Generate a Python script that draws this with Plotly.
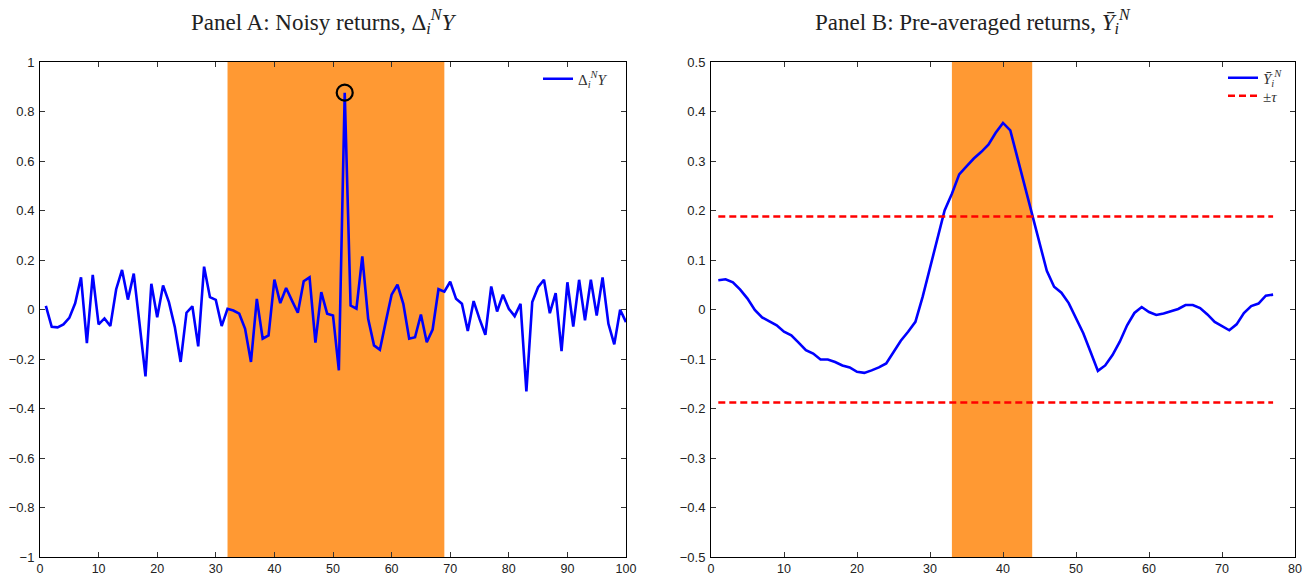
import plotly.graph_objects as go

# ---------------- data ----------------
x_a = list(range(1, 101))
noisy_returns = [
    0.015, -0.07, -0.072, -0.06, -0.034, 0.025, 0.13, -0.136, 0.14, -0.06,
    -0.036, -0.067, 0.082, 0.16, 0.04, 0.145, -0.06, -0.27, 0.104, -0.031,
    0.097, 0.03, -0.07, -0.212, -0.013, 0.013, -0.149, 0.173, 0.05, 0.039,
    -0.067, 0.003, -0.004, -0.017, -0.078, -0.212, 0.043, -0.118, -0.105, 0.121,
    0.026, 0.087, 0.036, -0.013, 0.114, 0.13, -0.134, 0.07, -0.017, -0.024,
    -0.246, 0.876, 0.016, 0.003, 0.215, -0.038, -0.145, -0.163, -0.05, 0.06,
    0.1, 0.023, -0.118, -0.112, -0.02, -0.132, -0.081, 0.082, 0.072, 0.112,
    0.043, 0.023, -0.087, 0.034, -0.038, -0.102, 0.093, -0.008, 0.06, 0.003,
    -0.027, 0.023, -0.331, 0.03, 0.09, 0.12, -0.015, 0.066, -0.168, 0.11,
    -0.069, 0.12, -0.044, 0.12, -0.024, 0.13, -0.058, -0.141, -0.001, -0.051,
]
jump_x = [52]
jump_y = [0.876]
band_a = [32, 69]

x_b = list(range(1, 78))
preavg_returns = [
    0.059, 0.061, 0.055, 0.04, 0.022, -0.001, -0.016, -0.024, -0.032, -0.045,
    -0.052, -0.067, -0.082, -0.089, -0.101, -0.101, -0.106, -0.113, -0.117, -0.126,
    -0.128, -0.123, -0.117, -0.109, -0.086, -0.063, -0.045, -0.025, 0.026, 0.086,
    0.14, 0.2, 0.234, 0.273, 0.289, 0.305, 0.318, 0.333, 0.357, 0.377,
    0.362, 0.305, 0.248, 0.188, 0.133, 0.078, 0.046, 0.034, 0.013, -0.018,
    -0.048, -0.086, -0.124, -0.113, -0.092, -0.065, -0.032, -0.007, 0.005, -0.005,
    -0.011, -0.008, -0.003, 0.001, 0.009, 0.009, 0.003, -0.01, -0.025, -0.034,
    -0.042, -0.03, -0.007, 0.007, 0.012, 0.028, 0.03,
]
tau = 0.188
tau_x = [1, 77]
band_b = [33, 44]

title_a = "Panel A: Noisy returns, Δ<sub><i>i</i></sub><sup><i>N</i></sup><i>Y</i>"
title_b = "Panel B: Pre-averaged returns, <i>Ȳ</i><sub><i>i</i></sub><sup><i>N</i></sup>"
leg_a = "Δ<sub><i>i</i></sub><sup><i>N</i></sup><i>Y</i>"
leg_b1 = "<i>Ȳ</i><sub><i>i</i></sub><sup><i>N</i></sup>"
leg_b2 = "±<i>τ</i>"

# ---------------- styles ----------------
BLUE = "#0000FF"
RED = "#FF0000"
ORANGE = "#FF9933"
SERIF = "Liberation Serif, Times New Roman, serif"
SANS = "Liberation Sans, Arial, Helvetica, sans-serif"

W, H = 1308, 575
ML, MR, MT, MB = 40, 13, 62, 18
PW = W - ML - MR
PH = H - MT - MB
A_R = 626
B_L = 711


def px_x(p):
    return (p - ML) / PW


def px_y(p):
    return 1 + (MT - p) / PH


fig = go.Figure()

fig.add_trace(go.Scatter(
    x=x_a, y=noisy_returns, mode="lines", name=leg_a,
    line=dict(color=BLUE, width=2.6), xaxis="x", yaxis="y", legend="legend",
))
fig.add_trace(go.Scatter(
    x=jump_x, y=jump_y, mode="markers", showlegend=False,
    marker=dict(symbol="circle-open", size=16, color="black", line=dict(width=2.2, color="black")),
    xaxis="x", yaxis="y",
))
fig.add_trace(go.Scatter(
    x=x_b, y=preavg_returns, mode="lines", name=leg_b1,
    line=dict(color=BLUE, width=2.6), xaxis="x2", yaxis="y2", legend="legend2",
))
fig.add_trace(go.Scatter(
    x=tau_x, y=[tau, tau], mode="lines", name=leg_b2,
    line=dict(color=RED, width=2.4, dash="7px,4px"), xaxis="x2", yaxis="y2", legend="legend3",
))
fig.add_trace(go.Scatter(
    x=tau_x, y=[-tau, -tau], mode="lines", showlegend=False,
    line=dict(color=RED, width=2.4, dash="7px,4px"), xaxis="x2", yaxis="y2",
))

fig.add_shape(type="rect", xref="x", yref="y domain", x0=band_a[0], x1=band_a[1], y0=0, y1=1,
              fillcolor=ORANGE, line=dict(width=0), layer="below")
fig.add_shape(type="rect", xref="x2", yref="y2 domain", x0=band_b[0], x1=band_b[1], y0=0, y1=1,
              fillcolor=ORANGE, line=dict(width=0), layer="below")

axis_common = dict(
    showgrid=False, zeroline=False, showline=True, linecolor="black", linewidth=1,
    mirror="ticks", ticks="inside", ticklen=5, tickcolor="#333333", tickwidth=1,
    automargin=False,
)
yfont = dict(family=SANS, size=13, color="#222222")
xfont = dict(family=SANS, size=12.5, color="#222222")

leg_common = dict(xanchor="left", yanchor="middle", bgcolor="rgba(0,0,0,0)", borderwidth=0,
                  font=dict(family=SERIF, size=15, color="#333333"), itemwidth=30)

fig.update_layout(
    width=W, height=H,
    margin=dict(l=ML, r=MR, t=MT, b=MB, autoexpand=False),
    paper_bgcolor="white", plot_bgcolor="white",
    xaxis=dict(domain=[0, px_x(A_R)], range=[0, 100], dtick=10, tick0=0,
               anchor="y", ticklabelstandoff=0, tickfont=xfont, **axis_common),
    yaxis=dict(domain=[0, 1], range=[-1, 1], dtick=0.2, tick0=0, anchor="x",
               ticklabelstandoff=2, tickfont=yfont, **axis_common),
    xaxis2=dict(domain=[px_x(B_L), 1], range=[0, 80], dtick=10, tick0=0,
                anchor="y2", ticklabelstandoff=0, tickfont=xfont, **axis_common),
    yaxis2=dict(domain=[0, 1], range=[-0.5, 0.5], dtick=0.1, tick0=0, anchor="x2",
                ticklabelstandoff=2, tickfont=yfont, **axis_common),
    legend=dict(x=px_x(538), y=px_y(79), **leg_common),
    legend2=dict(x=px_x(1223), y=px_y(78), **leg_common),
    legend3=dict(x=px_x(1223), y=px_y(96), **leg_common),
    showlegend=True,
    annotations=[
        dict(text=title_a, x=px_x(323), y=px_y(22), xref="paper", yref="paper", showarrow=False,
             xanchor="center", yanchor="middle",
             font=dict(family=SERIF, size=23, color="#222222")),
        dict(text=title_b, x=px_x(973), y=px_y(22), xref="paper", yref="paper", showarrow=False,
             xanchor="center", yanchor="middle",
             font=dict(family=SERIF, size=23, color="#222222")),
    ],
)

fig.write_html("out.html")
